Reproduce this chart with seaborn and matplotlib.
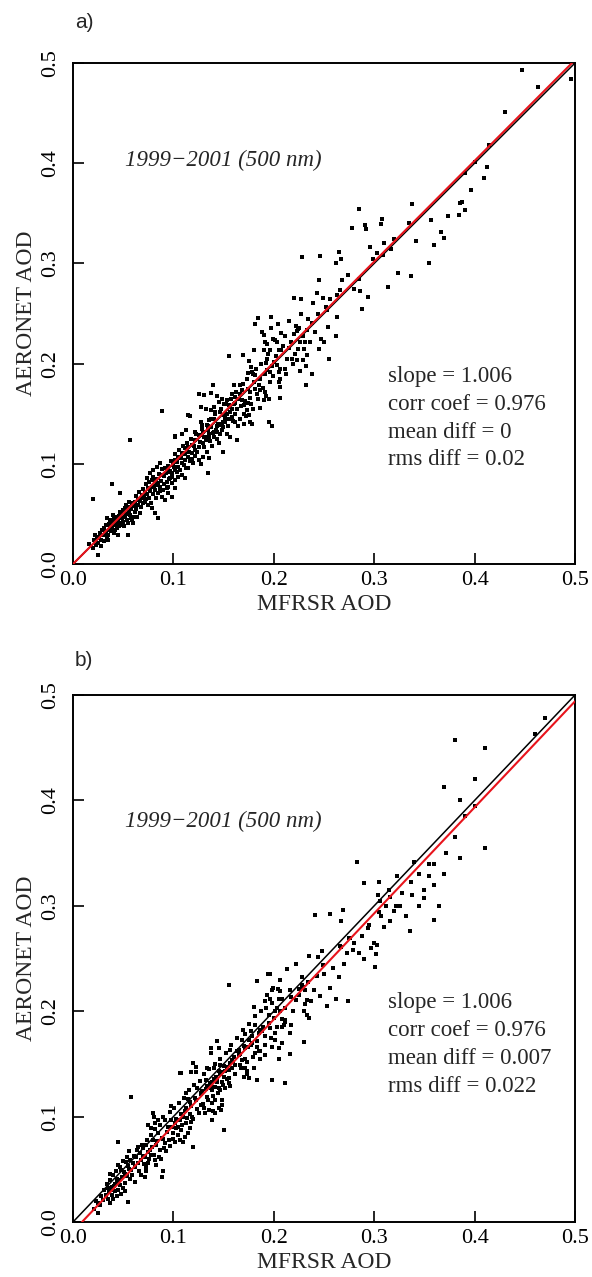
import matplotlib
matplotlib.use("Agg")
import matplotlib.pyplot as plt
import numpy as np
import pandas as pd
import seaborn as sns

# ---------------- data ----------------
points_a = [
    (0.016, 0.020), (0.025, 0.009), (0.022, 0.029), (0.024, 0.026), (0.027, 0.031), (0.029, 0.034),
    (0.032, 0.032), (0.034, 0.027), (0.035, 0.029), (0.025, 0.021), (0.028, 0.018), (0.031, 0.023),
    (0.035, 0.024), (0.037, 0.036), (0.039, 0.037), (0.040, 0.041), (0.042, 0.039), (0.044, 0.036),
    (0.045, 0.044), (0.047, 0.041), (0.049, 0.046), (0.050, 0.042), (0.052, 0.047), (0.054, 0.044),
    (0.055, 0.041), (0.057, 0.049), (0.059, 0.044), (0.060, 0.047), (0.062, 0.052), (0.055, 0.029),
    (0.045, 0.029), (0.042, 0.034), (0.037, 0.044), (0.034, 0.046), (0.040, 0.049), (0.047, 0.052),
    (0.052, 0.056), (0.055, 0.057), (0.059, 0.061), (0.062, 0.062), (0.065, 0.064), (0.069, 0.066),
    (0.072, 0.062), (0.075, 0.059), (0.079, 0.056), (0.082, 0.051), (0.085, 0.046), (0.067, 0.051),
    (0.064, 0.047), (0.060, 0.041), (0.069, 0.069), (0.072, 0.072), (0.075, 0.076), (0.079, 0.077),
    (0.082, 0.074), (0.085, 0.071), (0.089, 0.067), (0.092, 0.064), (0.090, 0.074), (0.095, 0.077),
    (0.099, 0.081), (0.102, 0.084), (0.105, 0.087), (0.109, 0.089), (0.112, 0.086), (0.102, 0.076),
    (0.099, 0.067), (0.095, 0.071), (0.087, 0.077), (0.084, 0.081), (0.079, 0.084), (0.074, 0.086),
    (0.077, 0.091), (0.080, 0.094), (0.084, 0.097), (0.087, 0.101), (0.092, 0.096), (0.095, 0.092),
    (0.099, 0.091), (0.102, 0.094), (0.105, 0.097), (0.109, 0.101), (0.112, 0.104), (0.115, 0.107),
    (0.119, 0.111), (0.122, 0.114), (0.125, 0.117), (0.129, 0.121), (0.132, 0.124), (0.135, 0.127),
    (0.139, 0.131), (0.142, 0.134), (0.145, 0.139), (0.149, 0.142), (0.122, 0.124), (0.125, 0.129),
    (0.129, 0.132), (0.134, 0.134), (0.112, 0.116), (0.115, 0.117), (0.119, 0.119), (0.109, 0.111),
    (0.105, 0.107), (0.102, 0.104), (0.100, 0.099), (0.097, 0.086), (0.094, 0.082), (0.090, 0.089),
    (0.115, 0.096), (0.120, 0.101), (0.125, 0.104), (0.129, 0.107), (0.135, 0.106), (0.057, 0.124),
    (0.039, 0.080), (0.020, 0.065), (0.047, 0.071), (0.102, 0.128), (0.109, 0.130), (0.134, 0.091),
    (0.149, 0.112), (0.145, 0.121),
    (0.020, 0.016), (0.021, 0.024), (0.023, 0.019), (0.026, 0.027), (0.028, 0.024), (0.030, 0.029),
    (0.031, 0.036), (0.033, 0.030), (0.033, 0.039), (0.036, 0.034), (0.036, 0.040), (0.038, 0.033),
    (0.039, 0.043), (0.041, 0.031), (0.041, 0.045), (0.043, 0.042), (0.044, 0.047), (0.046, 0.038),
    (0.046, 0.048), (0.048, 0.039), (0.048, 0.051), (0.050, 0.054), (0.051, 0.038), (0.053, 0.050),
    (0.053, 0.059), (0.056, 0.052), (0.056, 0.062), (0.058, 0.055), (0.058, 0.046), (0.061, 0.058),
    (0.063, 0.055), (0.063, 0.068), (0.065, 0.059), (0.066, 0.072), (0.067, 0.063), (0.068, 0.057),
    (0.070, 0.061), (0.070, 0.075), (0.071, 0.068), (0.073, 0.065), (0.073, 0.080), (0.074, 0.070),
    (0.076, 0.066), (0.076, 0.082), (0.077, 0.073), (0.078, 0.061), (0.080, 0.070), (0.080, 0.087),
    (0.081, 0.078), (0.083, 0.066), (0.083, 0.085), (0.085, 0.079), (0.086, 0.090), (0.087, 0.073),
    (0.088, 0.083), (0.089, 0.095), (0.091, 0.080), (0.091, 0.088), (0.093, 0.091), (0.094, 0.076),
    (0.095, 0.098), (0.096, 0.085), (0.097, 0.093), (0.098, 0.103), (0.099, 0.087),
    (0.101, 0.097), (0.102, 0.110), (0.104, 0.092), (0.104, 0.102), (0.106, 0.114), (0.107, 0.094),
    (0.108, 0.106), (0.110, 0.118), (0.111, 0.099), (0.112, 0.110), (0.113, 0.096), (0.114, 0.121),
    (0.116, 0.112), (0.117, 0.103), (0.118, 0.125), (0.119, 0.105), (0.121, 0.118), (0.122, 0.108),
    (0.123, 0.130), (0.124, 0.112), (0.126, 0.122), (0.127, 0.100), (0.128, 0.135), (0.130, 0.117),
    (0.131, 0.127), (0.133, 0.112), (0.134, 0.138), (0.136, 0.123), (0.137, 0.145), (0.138, 0.118),
    (0.140, 0.132), (0.141, 0.150), (0.143, 0.125), (0.144, 0.140), (0.146, 0.130), (0.147, 0.155),
    (0.149, 0.137),
    (0.151, 0.146), (0.152, 0.160), (0.154, 0.138), (0.156, 0.152), (0.157, 0.165), (0.159, 0.143),
    (0.160, 0.160), (0.162, 0.172), (0.163, 0.155), (0.164, 0.138), (0.166, 0.170), (0.167, 0.158),
    (0.169, 0.180), (0.171, 0.163), (0.172, 0.148), (0.173, 0.185), (0.176, 0.172), (0.177, 0.160),
    (0.179, 0.190), (0.181, 0.175), (0.182, 0.195), (0.184, 0.165), (0.186, 0.185), (0.187, 0.200),
    (0.189, 0.176), (0.191, 0.190), (0.194, 0.210), (0.196, 0.182), (0.198, 0.198), (0.199, 0.225),
    (0.202, 0.208), (0.204, 0.240), (0.206, 0.195), (0.209, 0.218), (0.211, 0.228), (0.213, 0.205),
    (0.215, 0.243), (0.217, 0.222), (0.219, 0.200), (0.222, 0.238), (0.224, 0.215), (0.227, 0.250),
    (0.229, 0.228), (0.232, 0.198), (0.234, 0.245), (0.236, 0.222), (0.239, 0.260), (0.241, 0.232),
    (0.244, 0.250), (0.247, 0.225), (0.249, 0.265),
    (0.220, 0.265), (0.227, 0.264), (0.184, 0.246), (0.197, 0.247), (0.181, 0.240), (0.197, 0.236),
    (0.188, 0.232), (0.190, 0.229), (0.207, 0.231), (0.220, 0.230), (0.223, 0.233), (0.224, 0.235),
    (0.233, 0.234), (0.201, 0.224), (0.203, 0.222), (0.191, 0.222), (0.193, 0.220), (0.180, 0.214),
    (0.190, 0.214), (0.196, 0.214), (0.205, 0.214), (0.207, 0.214), (0.215, 0.216), (0.221, 0.210),
    (0.218, 0.205), (0.223, 0.204), (0.226, 0.222), (0.231, 0.222), (0.230, 0.215), (0.233, 0.209),
    (0.229, 0.204), (0.169, 0.209), (0.155, 0.208), (0.175, 0.203), (0.193, 0.205), (0.192, 0.201),
    (0.200, 0.202), (0.203, 0.199), (0.177, 0.197), (0.178, 0.192), (0.174, 0.191), (0.181, 0.189),
    (0.193, 0.194), (0.196, 0.192), (0.199, 0.188), (0.205, 0.192), (0.206, 0.185), (0.211, 0.195),
    (0.212, 0.190), (0.226, 0.193), (0.205, 0.182), (0.206, 0.177), (0.232, 0.179), (0.139, 0.179),
    (0.160, 0.179), (0.166, 0.179), (0.168, 0.174), (0.174, 0.175), (0.180, 0.182), (0.185, 0.179),
    (0.186, 0.174), (0.183, 0.170), (0.191, 0.172), (0.192, 0.168), (0.190, 0.164), (0.195, 0.165),
    (0.206, 0.166), (0.125, 0.170), (0.130, 0.169), (0.137, 0.171), (0.143, 0.168), (0.148, 0.165),
    (0.150, 0.160), (0.145, 0.162), (0.153, 0.164), (0.158, 0.170), (0.161, 0.167), (0.165, 0.165),
    (0.161, 0.161), (0.155, 0.159), (0.158, 0.155), (0.168, 0.164), (0.170, 0.159), (0.174, 0.161),
    (0.176, 0.166), (0.173, 0.154), (0.179, 0.155), (0.186, 0.156), (0.127, 0.157), (0.132, 0.155),
    (0.140, 0.157), (0.141, 0.152), (0.137, 0.154), (0.146, 0.152), (0.150, 0.149), (0.153, 0.150),
    (0.155, 0.145), (0.158, 0.147), (0.161, 0.150), (0.151, 0.142), (0.161, 0.142), (0.166, 0.145),
    (0.170, 0.150), (0.175, 0.149), (0.176, 0.142), (0.170, 0.140), (0.178, 0.140), (0.089, 0.153),
    (0.115, 0.149), (0.117, 0.148), (0.127, 0.142), (0.135, 0.144), (0.140, 0.145), (0.128, 0.139),
    (0.133, 0.139), (0.137, 0.137), (0.143, 0.138), (0.148, 0.140), (0.195, 0.142), (0.198, 0.138),
    (0.113, 0.134), (0.109, 0.130), (0.102, 0.127), (0.122, 0.132), (0.126, 0.129), (0.130, 0.127),
    (0.135, 0.130), (0.140, 0.127), (0.143, 0.132), (0.148, 0.134), (0.153, 0.130), (0.156, 0.127),
    (0.163, 0.124),
    (0.338, 0.359), (0.285, 0.354), (0.308, 0.344), (0.307, 0.339), (0.291, 0.338), (0.292, 0.334),
    (0.278, 0.335), (0.335, 0.340), (0.342, 0.322), (0.320, 0.324), (0.310, 0.320), (0.296, 0.316),
    (0.317, 0.314), (0.303, 0.310), (0.309, 0.308), (0.299, 0.304), (0.228, 0.306), (0.246, 0.307),
    (0.265, 0.311), (0.267, 0.304), (0.262, 0.300), (0.274, 0.288), (0.324, 0.290), (0.337, 0.287),
    (0.245, 0.283), (0.268, 0.283), (0.285, 0.284), (0.266, 0.273), (0.280, 0.274), (0.286, 0.272),
    (0.314, 0.276), (0.243, 0.270), (0.263, 0.268), (0.256, 0.264), (0.294, 0.266), (0.252, 0.256),
    (0.253, 0.253), (0.288, 0.254), (0.263, 0.247), (0.225, 0.236), (0.238, 0.241), (0.254, 0.237),
    (0.245, 0.215), (0.255, 0.205), (0.238, 0.190), (0.262, 0.228), (0.250, 0.222),
    (0.447, 0.493), (0.463, 0.476), (0.496, 0.484), (0.430, 0.451), (0.414, 0.418), (0.400, 0.401),
    (0.412, 0.396), (0.409, 0.385), (0.387, 0.361), (0.390, 0.353), (0.384, 0.348), (0.374, 0.347),
    (0.396, 0.373), (0.357, 0.343), (0.367, 0.331), (0.370, 0.325), (0.355, 0.300), (0.360, 0.318),
    (0.385, 0.360), (0.390, 0.390),
]

points_b = [
    (0.025, 0.009), (0.025, 0.018), (0.035, 0.022), (0.037, 0.018), (0.039, 0.026), (0.040, 0.022),
    (0.042, 0.029), (0.044, 0.025), (0.038, 0.030), (0.035, 0.032), (0.045, 0.030), (0.047, 0.035),
    (0.048, 0.027), (0.041, 0.034), (0.044, 0.037), (0.050, 0.032), (0.052, 0.037), (0.055, 0.019),
    (0.037, 0.046), (0.044, 0.041), (0.045, 0.054), (0.048, 0.049), (0.052, 0.046), (0.053, 0.057),
    (0.055, 0.053), (0.058, 0.049), (0.060, 0.056), (0.057, 0.041), (0.062, 0.038), (0.052, 0.029),
    (0.056, 0.067), (0.045, 0.076), (0.058, 0.119), (0.063, 0.062), (0.067, 0.065), (0.068, 0.059),
    (0.072, 0.062), (0.065, 0.071), (0.070, 0.070), (0.073, 0.073), (0.077, 0.068), (0.078, 0.064),
    (0.082, 0.059), (0.083, 0.054), (0.075, 0.056), (0.080, 0.078), (0.083, 0.073), (0.087, 0.068),
    (0.088, 0.060), (0.085, 0.084), (0.090, 0.079), (0.092, 0.075), (0.093, 0.067), (0.097, 0.072),
    (0.073, 0.052), (0.072, 0.043), (0.068, 0.045), (0.073, 0.048), (0.090, 0.048), (0.089, 0.043),
    (0.075, 0.092), (0.078, 0.089), (0.082, 0.094), (0.085, 0.097), (0.080, 0.103), (0.081, 0.100),
    (0.090, 0.100), (0.098, 0.097), (0.095, 0.090), (0.102, 0.094), (0.103, 0.089), (0.100, 0.084),
    (0.105, 0.083), (0.108, 0.087), (0.107, 0.078), (0.110, 0.076), (0.102, 0.076), (0.112, 0.081),
    (0.115, 0.084), (0.117, 0.089), (0.113, 0.094), (0.118, 0.095), (0.120, 0.098), (0.117, 0.102),
    (0.112, 0.105), (0.110, 0.100), (0.107, 0.097), (0.098, 0.110), (0.120, 0.071), (0.113, 0.122),
    (0.115, 0.117), (0.117, 0.114), (0.123, 0.116), (0.127, 0.111), (0.130, 0.108), (0.125, 0.103),
    (0.131, 0.103), (0.135, 0.106), (0.138, 0.113), (0.141, 0.116), (0.133, 0.119), (0.128, 0.124),
    (0.127, 0.121), (0.138, 0.125), (0.141, 0.128), (0.136, 0.132), (0.132, 0.135), (0.140, 0.136),
    (0.143, 0.133), (0.146, 0.125), (0.148, 0.116), (0.145, 0.108), (0.141, 0.103), (0.148, 0.111),
    (0.138, 0.097), (0.139, 0.105), (0.147, 0.106), (0.108, 0.141), (0.118, 0.142), (0.123, 0.142),
    (0.150, 0.087),
    (0.021, 0.012), (0.023, 0.020), (0.027, 0.016), (0.028, 0.025), (0.030, 0.021), (0.031, 0.030),
    (0.033, 0.026), (0.034, 0.036), (0.036, 0.028), (0.037, 0.040), (0.039, 0.033), (0.040, 0.045),
    (0.042, 0.036), (0.043, 0.048), (0.046, 0.040), (0.047, 0.052), (0.049, 0.043), (0.050, 0.058),
    (0.051, 0.047), (0.054, 0.044), (0.054, 0.062), (0.056, 0.050), (0.057, 0.059), (0.059, 0.045),
    (0.061, 0.063), (0.062, 0.052), (0.064, 0.068), (0.065, 0.056), (0.066, 0.048), (0.069, 0.073),
    (0.070, 0.063), (0.071, 0.055), (0.074, 0.078), (0.075, 0.066), (0.076, 0.060), (0.078, 0.083),
    (0.079, 0.071), (0.081, 0.064), (0.082, 0.088), (0.084, 0.077), (0.086, 0.062), (0.087, 0.092),
    (0.089, 0.080), (0.091, 0.070), (0.092, 0.097), (0.094, 0.085), (0.096, 0.078), (0.097, 0.104),
    (0.099, 0.090), (0.100, 0.079), (0.101, 0.108), (0.103, 0.098), (0.105, 0.090), (0.106, 0.113),
    (0.108, 0.102), (0.109, 0.092), (0.111, 0.118), (0.113, 0.108), (0.114, 0.099), (0.116, 0.125),
    (0.118, 0.110), (0.119, 0.100), (0.121, 0.130), (0.122, 0.118), (0.124, 0.107), (0.126, 0.134),
    (0.127, 0.122), (0.129, 0.112), (0.130, 0.140), (0.132, 0.126), (0.134, 0.116), (0.135, 0.145),
    (0.137, 0.130), (0.139, 0.120), (0.141, 0.150), (0.142, 0.138), (0.144, 0.122), (0.146, 0.155),
    (0.148, 0.142), (0.149, 0.130),
    (0.152, 0.160), (0.153, 0.147), (0.155, 0.137), (0.157, 0.168), (0.159, 0.152), (0.161, 0.140),
    (0.163, 0.175), (0.165, 0.158), (0.167, 0.146), (0.169, 0.182), (0.171, 0.165), (0.173, 0.152),
    (0.175, 0.188), (0.177, 0.168), (0.179, 0.157), (0.181, 0.195), (0.183, 0.172), (0.185, 0.162),
    (0.187, 0.200), (0.189, 0.185), (0.191, 0.168), (0.193, 0.215), (0.195, 0.196), (0.197, 0.175),
    (0.199, 0.222), (0.201, 0.200), (0.203, 0.185), (0.206, 0.230), (0.208, 0.212), (0.211, 0.192),
    (0.213, 0.240), (0.216, 0.220), (0.219, 0.200), (0.222, 0.245), (0.225, 0.215), (0.228, 0.232),
    (0.231, 0.207), (0.234, 0.228), (0.237, 0.210), (0.240, 0.220), (0.243, 0.233), (0.246, 0.214),
    (0.250, 0.235), (0.253, 0.205), (0.256, 0.222), (0.262, 0.212), (0.265, 0.232), (0.270, 0.245),
    (0.274, 0.210), (0.280, 0.265), (0.285, 0.255), (0.290, 0.250), (0.295, 0.282), (0.300, 0.265),
    (0.304, 0.310), (0.310, 0.280), (0.315, 0.315), (0.322, 0.300), (0.328, 0.312), (0.332, 0.290),
    (0.338, 0.310), (0.345, 0.330), (0.350, 0.307), (0.355, 0.340), (0.365, 0.300), (0.372, 0.350),
    (0.235, 0.252), (0.194, 0.235), (0.196, 0.235), (0.155, 0.225), (0.183, 0.229), (0.198, 0.220),
    (0.204, 0.221), (0.206, 0.219), (0.228, 0.225), (0.229, 0.223), (0.225, 0.221), (0.233, 0.211),
    (0.231, 0.220), (0.191, 0.210), (0.196, 0.212), (0.205, 0.212), (0.198, 0.208), (0.192, 0.203),
    (0.203, 0.203), (0.206, 0.200), (0.211, 0.203), (0.217, 0.213), (0.222, 0.211), (0.180, 0.204),
    (0.230, 0.200), (0.233, 0.196), (0.235, 0.194), (0.200, 0.194), (0.208, 0.193), (0.211, 0.190),
    (0.210, 0.187), (0.208, 0.185), (0.217, 0.187), (0.216, 0.179), (0.181, 0.187), (0.186, 0.182),
    (0.188, 0.181), (0.185, 0.179), (0.195, 0.189), (0.196, 0.184), (0.191, 0.176), (0.201, 0.179),
    (0.201, 0.173), (0.198, 0.166), (0.205, 0.165), (0.208, 0.170), (0.177, 0.181), (0.178, 0.176),
    (0.175, 0.173), (0.171, 0.178), (0.168, 0.173), (0.170, 0.167), (0.174, 0.166), (0.178, 0.170),
    (0.183, 0.166), (0.186, 0.162), (0.181, 0.160), (0.186, 0.155), (0.191, 0.158), (0.230, 0.171),
    (0.216, 0.159), (0.205, 0.155), (0.143, 0.172), (0.145, 0.165), (0.137, 0.165), (0.137, 0.160),
    (0.156, 0.163), (0.163, 0.162), (0.165, 0.163), (0.166, 0.159), (0.168, 0.154), (0.171, 0.155),
    (0.160, 0.157), (0.158, 0.154), (0.156, 0.151), (0.161, 0.149), (0.166, 0.149), (0.171, 0.146),
    (0.173, 0.143), (0.170, 0.138), (0.173, 0.140), (0.175, 0.137), (0.180, 0.146), (0.120, 0.151),
    (0.123, 0.147), (0.118, 0.142), (0.123, 0.142), (0.107, 0.141), (0.133, 0.146), (0.140, 0.146),
    (0.146, 0.149), (0.150, 0.148), (0.151, 0.143), (0.155, 0.144), (0.158, 0.146), (0.145, 0.143),
    (0.146, 0.140), (0.150, 0.138), (0.153, 0.136), (0.143, 0.136), (0.138, 0.133), (0.148, 0.133),
    (0.155, 0.132), (0.156, 0.129), (0.133, 0.129), (0.137, 0.127), (0.145, 0.127), (0.151, 0.127),
    (0.183, 0.135), (0.198, 0.135), (0.211, 0.132), (0.124, 0.127),
    (0.283, 0.342), (0.340, 0.342), (0.290, 0.322), (0.305, 0.323), (0.323, 0.328), (0.337, 0.323),
    (0.316, 0.308), (0.306, 0.305), (0.312, 0.300), (0.326, 0.300), (0.320, 0.295), (0.305, 0.294),
    (0.307, 0.290), (0.241, 0.291), (0.256, 0.292), (0.269, 0.296), (0.267, 0.286), (0.316, 0.286),
    (0.336, 0.276), (0.294, 0.279), (0.275, 0.269), (0.276, 0.269), (0.288, 0.271), (0.266, 0.262),
    (0.267, 0.261), (0.279, 0.258), (0.273, 0.255), (0.297, 0.260), (0.303, 0.263), (0.302, 0.254),
    (0.301, 0.242), (0.244, 0.251), (0.248, 0.257), (0.249, 0.244), (0.259, 0.241),
    (0.460, 0.463), (0.470, 0.478), (0.380, 0.457), (0.410, 0.450), (0.370, 0.413), (0.400, 0.420),
    (0.385, 0.400), (0.390, 0.385), (0.400, 0.395), (0.410, 0.355), (0.380, 0.365), (0.385, 0.345),
    (0.360, 0.340), (0.355, 0.328), (0.360, 0.320), (0.350, 0.315), (0.370, 0.330), (0.345, 0.300),
    (0.360, 0.287),
]

mfrsr_a = [p[0] for p in points_a]
aeronet_a = [p[1] for p in points_a]
mfrsr_b = [p[0] for p in points_b]
aeronet_b = [p[1] for p in points_b]

panel_labels = ["a)", "b)"]
period_text = "1999\u22122001 (500 nm)"
stats_a = ["slope = 1.006", "corr coef = 0.976", "mean diff = 0", "rms diff = 0.02"]
stats_b = ["slope = 1.006", "corr coef = 0.976", "mean diff = 0.007", "rms diff = 0.022"]
fit_a = (1.006, 0.0)       # slope, intercept of red regression line
fit_b = (1.006, -0.009)
ticks = [0.0, 0.1, 0.2, 0.3, 0.4, 0.5]
tick_labels = ["0.0", "0.1", "0.2", "0.3", "0.4", "0.5"]

# ---------------- style ----------------
sns.set_style("ticks")
plt.rcParams['font.family'] = ['Liberation Serif', 'DejaVu Serif']

W, H = 592, 1277
fig = plt.figure(figsize=(W / 100, H / 100), dpi=100)

def px_box(left, top, right, bottom):
    return [left / W, 1 - bottom / H, (right - left) / W, (bottom - top) / H]

ax_a = fig.add_axes(px_box(73, 63, 575, 564))
ax_b = fig.add_axes(px_box(73, 695, 575, 1222))

def draw(ax, xs, ys, fit, stats, text_y, stats_top, line_step):
    df = pd.DataFrame({"MFRSR": xs, "AERONET": ys})
    sns.scatterplot(data=df, x="MFRSR", y="AERONET", ax=ax, marker="s", s=7,
                    color="black", linewidth=0, zorder=2, legend=False)
    ax.plot([0, 0.5], [0, 0.5], color="black", lw=1.1, zorder=3)
    slope, icpt = fit
    x0 = max(0.0, -icpt / slope)
    ax.plot([x0, 0.5], [slope * x0 + icpt, slope * 0.5 + icpt], color="#e8141c", lw=1.5, zorder=4)
    ax.set_xlim(0, 0.5)
    ax.set_ylim(0, 0.5)
    ax.set_xticks(ticks)
    ax.set_yticks(ticks)
    ax.set_xticklabels(tick_labels, fontsize=16)
    ax.set_yticklabels(tick_labels, fontsize=16, rotation=90, va="center")
    ax.tick_params(direction="in", length=8, width=1.2, colors="black")
    ax.tick_params(axis="x", pad=5)
    ax.tick_params(axis="y", pad=9)
    for sp in ax.spines.values():
        sp.set_linewidth(1.4)
        sp.set_color("black")
    ax.set_xlabel("MFRSR AOD", fontsize=17, labelpad=3)
    ax.set_ylabel("AERONET AOD", fontsize=17, labelpad=3)
    ax.text(0.052, text_y, period_text, fontsize=16.5, style="italic", va="center", ha="left")
    for i, s in enumerate(stats):
        ax.text(0.314, stats_top - i * line_step, s, fontsize=16.5, va="center", ha="left")

draw(ax_a, mfrsr_a, aeronet_a, fit_a, stats_a, 0.403, 0.187, 0.0277)
draw(ax_b, mfrsr_b, aeronet_b, fit_b, stats_b, 0.380, 0.208, 0.0265)

fig.text(75 / W, 1 - 23 / H, panel_labels[0], fontsize=15, family=['Liberation Sans', 'DejaVu Sans'],
         va="center", ha="left")
fig.text(75 / W, 1 - 660 / H, panel_labels[1], fontsize=15, family=['Liberation Sans', 'DejaVu Sans'],
         va="center", ha="left")

fig.savefig("out.png", dpi=100)
